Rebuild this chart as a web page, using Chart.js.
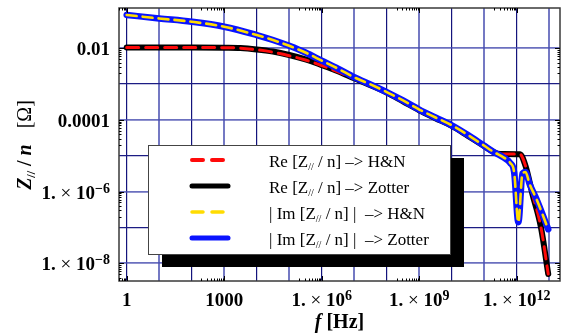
<!DOCTYPE html>
<html>
<head>
<meta charset="utf-8">
<script src="https://cdn.jsdelivr.net/npm/chart.js@4.4.1/dist/chart.umd.min.js"></script>
<style>
  html, body { margin: 0; padding: 0; background: #fff; }
  canvas { display: block; }
</style>
</head>
<body>
<canvas id="wykres" width="572" height="336"></canvas>
<script>
'use strict';

/* ---------- dane ---------- */

var F_RE = [1, 10, 100, 1000, 3.16e3, 1e4, 3.16e4, 1e5, 3.16e5, 1e6, 3.16e6, 1e7, 3.16e7, 1e8,
  3.16e8, 1e9, 3.16e9, 1e10, 3.16e10, 1e11, 2e11, 3.16e11, 1.26e12, 1.9e12, 3e12, 5.5e12, 9.3e12];
var RE_ZOTTER = [0.0105, 0.0105, 0.0105, 0.0104, 0.0102, 0.0093, 0.0081, 0.0065, 0.0049, 0.0034,
  0.0023, 0.00145, 0.00093, 0.00058, 0.00033, 0.000186, 0.000112, 6.8e-5, 3.6e-5, 1.86e-5,
  1.26e-5, 1.12e-5, 1.1e-5, 4.9e-6, 8.9e-7, 1.05e-7, 5e-9];
var RE_HN = [0.0105, 0.0105, 0.0105, 0.0104, 0.0101, 0.0091, 0.0078, 0.0062, 0.0047, 0.0033,
  0.0022, 0.00142, 0.00092, 0.00058, 0.00033, 0.000186, 0.000112, 6.8e-5, 3.6e-5, 1.86e-5,
  1.26e-5, 1.12e-5, 1.1e-5, 4.9e-6, 8.9e-7, 1.05e-7, 5e-9];

var F_IM = [1, 10, 100, 1000, 1e4, 3.16e4, 1e5, 3.16e5, 1e6, 3.16e6, 1e7, 3.16e7, 1e8, 3.16e8,
  1e9, 3.16e9, 1e10, 3.16e10, 1e11, 2e11, 4e11, 6.3e11, 8.3e11, 1.12e12, 1.5e12, 1.86e12,
  2.5e12, 4e12, 9.3e12];
var IM_ZOTTER = [0.085, 0.068, 0.055, 0.040, 0.0234, 0.017, 0.0117, 0.0076, 0.0045, 0.0027,
  0.00155, 0.00098, 0.0006, 0.00035, 0.000195, 0.000117, 7.1e-5, 3.8e-5, 1.9e-5, 1.26e-5,
  8.9e-6, 6.3e-6, 3.5e-6, 1.4e-7, 3.2e-6, 3.5e-6, 1.6e-6, 6.3e-7, 8.9e-8];
var IM_HN = [0.085, 0.068, 0.055, 0.040, 0.0234, 0.017, 0.0117, 0.0076, 0.0045, 0.0027,
  0.00155, 0.00098, 0.0006, 0.00035, 0.000195, 0.000117, 7.1e-5, 3.8e-5, 1.9e-5, 1.26e-5,
  8.9e-6, 6.3e-6, 3.5e-6, 1.4e-7, 3.2e-6, 3.5e-6, 1.6e-6, 6.3e-7, 8.9e-8];

// osie
var X_MIN = 0.58, X_MAX = 2.14e13;
var Y_MIN = 3.2e-9, Y_MAX = 0.133;
var X_GRID = [1, 10, 100, 1e3, 1e4, 1e5, 1e6, 1e7, 1e8, 1e9, 1e10, 1e11, 1e12, 1e13];
var Y_GRID = [1e-8, 1e-7, 1e-6, 1e-5, 1e-4, 1e-3, 1e-2];
var X_TICKS = [1, 1e3, 1e6, 1e9, 1e12];
var X_TICK_LABELS = ['1', '1000', '1.×10^6', '1.×10^9', '1.×10^12'];
var Y_TICKS = [1e-2, 1e-4, 1e-6, 1e-8];
var Y_TICK_LABELS = ['0.01', '0.0001', '1.×10^−6', '1.×10^−8'];

var LEGEND_TEXT = [
  ['Re [Z', ' / n] –> H&N'],
  ['Re [Z', ' / n] –> Zotter'],
  ['| Im [Z', ' / n] |  –> H&N'],
  ['| Im [Z', ' / n] |  –> Zotter']
];

/* ---------- pomocnicze ---------- */

var SERIF = "'Liberation Serif', 'Times New Roman', serif";

function punkty(fx, fy) {
  return fx.map(function (f, i) { return { x: f, y: fy[i] }; });
}

function piszCzesci(ctx, czesci, x, y, wyr) {
  var szer = 0;
  czesci.forEach(function (c) { ctx.font = c.font; szer += ctx.measureText(c.t).width + (c.gap || 0); });
  var pos = wyr === 'right' ? x - szer : (wyr === 'center' ? x - szer / 2 : x);
  ctx.textAlign = 'left';
  ctx.textBaseline = 'alphabetic';
  czesci.forEach(function (c) {
    pos += c.gap || 0;
    ctx.font = c.font;
    ctx.fillText(c.t, pos, y + (c.dy || 0));
    pos += ctx.measureText(c.t).width;
  });
}

function czesciEtykiety(tekst) {
  var b = 'bold 19px ' + SERIF;
  if (tekst.indexOf('^') < 0) return [{ t: tekst, font: b }];
  var p = tekst.split('^');
  var q = p[0].split('×');
  return [
    { t: q[0], font: b },
    { t: ' × ', font: '19px ' + SERIF },
    { t: q[1], font: b },
    { t: p[1], font: 'bold 14px ' + SERIF, dy: -6 }
  ];
}

function kreska(ctx, x1, y1, x2, y2) {
  ctx.beginPath(); ctx.moveTo(x1, y1); ctx.lineTo(x2, y2); ctx.stroke();
}

function wykladnik(v) { return Math.round(Math.log10(v)); }

/* ---------- plugin: ramka, opisy osi, legenda ---------- */

var opisyPlugin = {
  id: 'opisy',
  afterDatasetsDraw: function (chart) {
    var ctx = chart.ctx, a = chart.chartArea;
    var sx = chart.scales.x, sy = chart.scales.y;
    ctx.save();

    // ramka
    ctx.strokeStyle = '#3a3a3a';
    ctx.lineWidth = 1.5;
    ctx.strokeRect(a.left, a.top, a.right - a.left, a.bottom - a.top);

    // kreski podzialki
    ctx.strokeStyle = '#000';
    ctx.lineWidth = 1;
    X_TICKS.forEach(function (v) {
      var px = Math.round(sx.getPixelForValue(v)) + 0.5;
      kreska(ctx, px, a.bottom, px, a.bottom - 5);
      kreska(ctx, px, a.top, px, a.top + 5);
      for (var j = 2; j <= 9; j++) {
        var m = v / 10 * j;
        if (m < X_MIN) continue;
        var mx = Math.round(sx.getPixelForValue(m)) + 0.5;
        kreska(ctx, mx, a.bottom, mx, a.bottom - 2.5);
        kreska(ctx, mx, a.top, mx, a.top + 2.5);
      }
    });
    Y_TICKS.forEach(function (v) {
      var py = Math.round(sy.getPixelForValue(v)) + 0.5;
      kreska(ctx, a.left, py, a.left + 5, py);
      kreska(ctx, a.right, py, a.right - 5, py);
      for (var j = 2; j <= 9; j++) {
        var m = v / 10 * j;
        if (m < Y_MIN) continue;
        var my = Math.round(sy.getPixelForValue(m)) + 0.5;
        kreska(ctx, a.left, my, a.left + 2.5, my);
        kreska(ctx, a.right, my, a.right - 2.5, my);
      }
    });

    // etykiety podzialki
    ctx.fillStyle = '#000';
    X_TICKS.forEach(function (v, i) {
      piszCzesci(ctx, czesciEtykiety(X_TICK_LABELS[i]), sx.getPixelForValue(v), 306, 'center');
    });
    Y_TICKS.forEach(function (v, i) {
      piszCzesci(ctx, czesciEtykiety(Y_TICK_LABELS[i]), a.left - 9, sy.getPixelForValue(v) + 7, 'right');
    });

    // tytul osi X
    piszCzesci(ctx, [
      { t: 'f', font: 'italic bold 20px ' + SERIF },
      { t: ' [Hz]', font: 'bold 20px ' + SERIF }
    ], (a.left + a.right) / 2, 328, 'center');

    // tytul osi Y
    ctx.save();
    ctx.translate(31, 145);
    ctx.rotate(-Math.PI / 2);
    piszCzesci(ctx, [
      { t: 'Z', font: 'italic bold 20px ' + SERIF },
      { t: '//', font: 'bold 12px ' + SERIF, dy: 4 },
      { t: ' / ', font: 'bold 20px ' + SERIF },
      { t: 'n', font: 'italic bold 20px ' + SERIF },
      { t: '[Ω]', font: '20px ' + SERIF, gap: 16 }
    ], 0, 0, 'center');
    ctx.restore();

    // legenda
    var lx = 148, ly = 145, lw = 302, lh = 109;
    ctx.fillStyle = '#000';
    ctx.fillRect(lx + 14, ly + 13, lw, lh);
    ctx.fillStyle = '#fff';
    ctx.fillRect(lx, ly, lw, lh);
    ctx.strokeStyle = '#444';
    ctx.lineWidth = 1;
    ctx.strokeRect(lx + 0.5, ly + 0.5, lw, lh);

    var kolejnosc = [1, 0, 3, 2];
    kolejnosc.forEach(function (di, r) {
      var ds = chart.data.datasets[di];
      var ry = 160 + r * 26;
      ctx.save();
      ctx.strokeStyle = ds.borderColor;
      ctx.lineWidth = ds.legendWidth;
      ctx.lineCap = 'round';
      ctx.setLineDash(ds.legendDash);
      kreska(ctx, 192, ry, 228, ry);
      ctx.restore();
      ctx.fillStyle = '#000';
      piszCzesci(ctx, [
        { t: LEGEND_TEXT[r][0], font: '17px ' + SERIF },
        { t: '//', font: '10px ' + SERIF, dy: 3 },
        { t: LEGEND_TEXT[r][1], font: '17px ' + SERIF }
      ], 269, ry + 6.5, 'left');
    });

    ctx.restore();
  }
};

/* ---------- wykres ---------- */

function kolorSiatkiX(c) {
  return wykladnik(c.tick.value) % 2 === 0 ? '#14147c' : 'rgba(70, 76, 175, 0.75)';
}
function gruboscSiatkiX(c) {
  return wykladnik(c.tick.value) % 2 === 0 ? 1.2 : 2;
}
function kolorSiatkiY(c) {
  return Math.abs(wykladnik(c.tick.value)) % 2 === 0 ? 'rgba(70, 76, 175, 0.8)' : '#1c1c84';
}
function gruboscSiatkiY(c) {
  return Math.abs(wykladnik(c.tick.value)) % 2 === 0 ? 1.8 : 1.3;
}

new Chart(document.getElementById('wykres'), {
  type: 'line',
  data: {
    datasets: [
      { label: 'Re Zotter', data: punkty(F_RE, RE_ZOTTER), borderColor: '#000000', borderWidth: 6,
        order: 4, legendWidth: 5, legendDash: [] },
      { label: 'Re H&N', data: punkty(F_RE, RE_HN), borderColor: '#ff0a0a', borderWidth: 3,
        borderDash: [12, 7], order: 3, legendWidth: 4, legendDash: [11, 9] },
      { label: 'Im Zotter', data: punkty(F_IM, IM_ZOTTER), borderColor: '#0a14ff', borderWidth: 6.5,
        order: 2, legendWidth: 5, legendDash: [] },
      { label: 'Im H&N', data: punkty(F_IM, IM_HN), borderColor: '#ffdc00', borderWidth: 2.6,
        borderDash: [10, 6], order: 1, legendWidth: 3.5, legendDash: [11, 9] }
    ]
  },
  options: {
    responsive: false,
    animation: false,
    devicePixelRatio: 1,
    layout: { padding: { top: 8, right: 12, left: 0, bottom: 0 } },
    elements: {
      point: { radius: 0 },
      line: { tension: 0, cubicInterpolationMode: 'monotone', borderCapStyle: 'round', borderJoinStyle: 'round' }
    },
    plugins: { legend: { display: false }, tooltip: { enabled: false } },
    scales: {
      x: {
        type: 'logarithmic', min: X_MIN, max: X_MAX,
        afterBuildTicks: function (s) { s.ticks = X_GRID.map(function (v) { return { value: v }; }); },
        afterFit: function (s) { s.height = 55; },
        ticks: { display: false },
        border: { display: false },
        grid: { drawTicks: false, color: kolorSiatkiX, lineWidth: gruboscSiatkiX }
      },
      y: {
        type: 'logarithmic', min: Y_MIN, max: Y_MAX,
        afterBuildTicks: function (s) { s.ticks = Y_GRID.map(function (v) { return { value: v }; }); },
        afterFit: function (s) { s.width = 119; },
        ticks: { display: false },
        border: { display: false },
        grid: { drawTicks: false, color: kolorSiatkiY, lineWidth: gruboscSiatkiY }
      }
    }
  },
  plugins: [opisyPlugin]
});
</script>
</body>
</html>
